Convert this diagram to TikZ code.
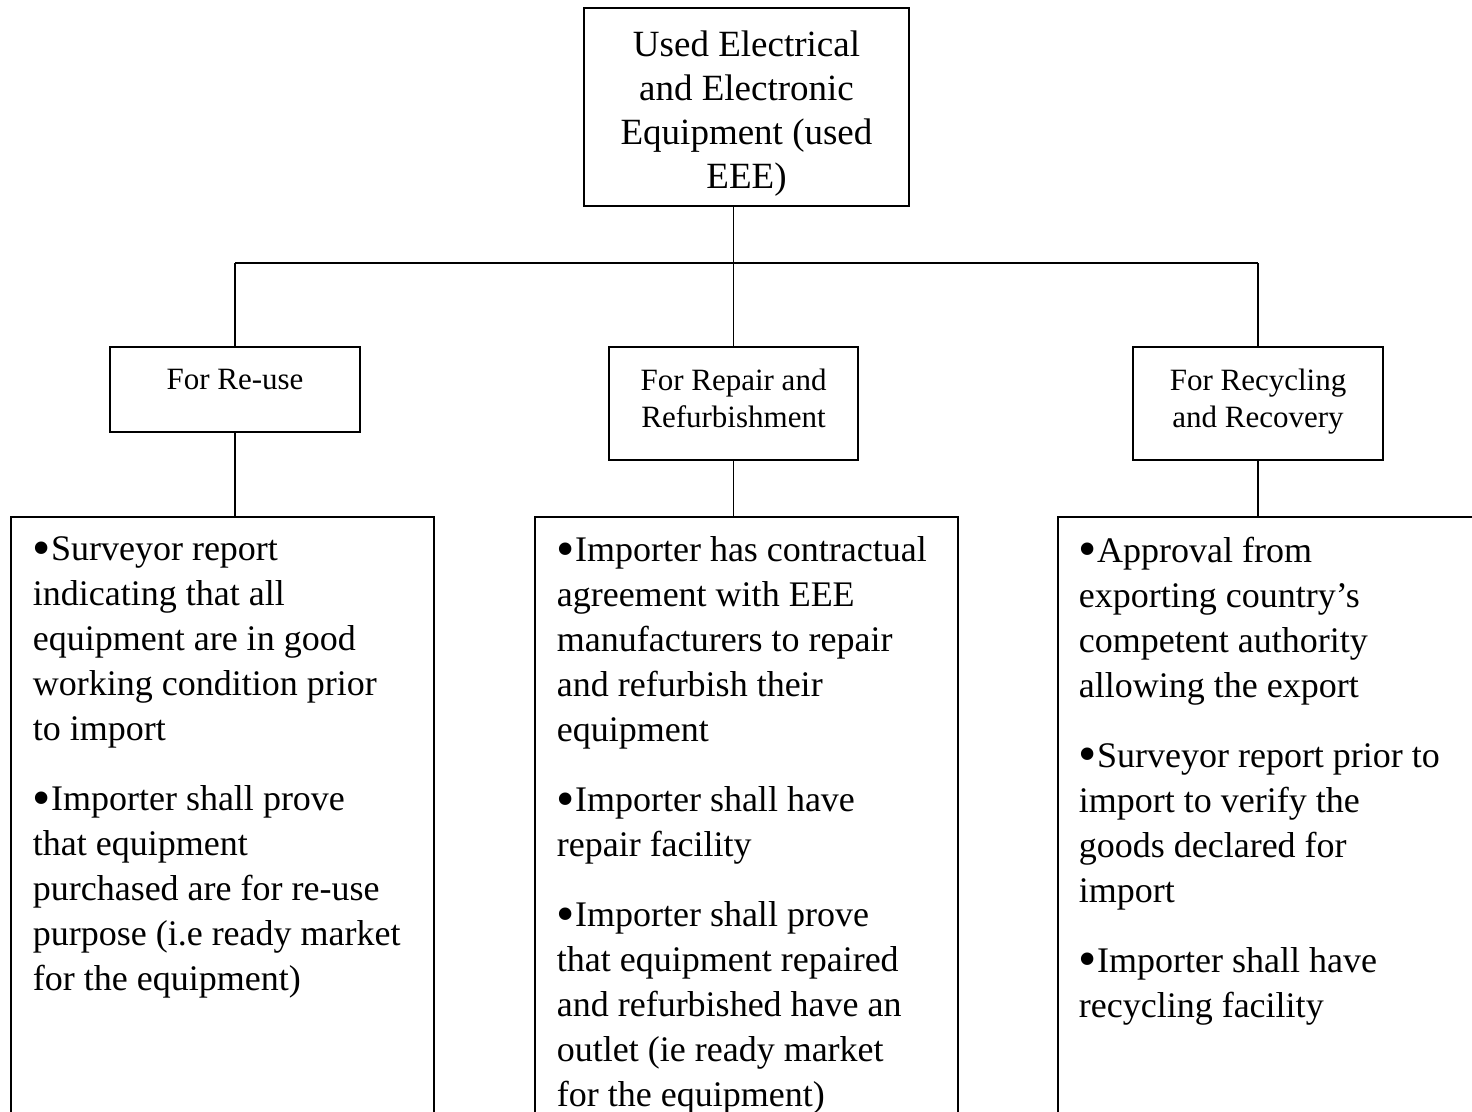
\documentclass[tikz,border=0pt]{standalone}
\usepackage{graphicx}
\usepackage{fontspec}
\setmainfont{Liberation Serif}
\newcommand\bul{\raisebox{-4.5pt}{\scalebox{1.45}{•}}}
\begin{document}
\begin{tikzpicture}[x=1pt,y=-1pt,line width=1.6pt,
  box/.style={draw,rectangle,inner sep=0pt},
  midtxt/.style={inner sep=0pt,align=center,font=\fontsize{31}{37}\selectfont},
  body/.style={inner sep=0pt,align=left,font=\fontsize{36}{45}\selectfont}]
\useasboundingbox (0,0) rectangle (1472,1111);
% top
\node[box,minimum width=325pt,minimum height=198pt] (top) at (746.5,107) {};
\node[inner sep=0pt,align=center,anchor=north,
  font=\fontsize{37}{44}\selectfont] (topT) at (746.5,30)
  {Used Electrical\\and Electronic\\Equipment (used\\EEE)};
% middle level
\node[box,minimum width=250pt,minimum height=85pt] (reuse) at (235,389.5) {};
\node[box,minimum width=249pt,minimum height=113pt] (repair) at (733.5,403.5) {};
\node[box,minimum width=250pt,minimum height=113pt] (recyc) at (1258,403.5) {};
\node[midtxt,anchor=north] (reuseT) at (235,368) {For Re-use};
\node[midtxt,anchor=north] (repairT) at (733.5,368) {For Repair and\\Refurbishment};
\node[midtxt,anchor=north] (recycT) at (1258,368) {For Recycling\\and Recovery};
% bottom level (cut off by the page edge)
\node[box,minimum width=423pt,minimum height=603pt] (left) at (222.5,818.5) {};
\node[box,minimum width=423pt,minimum height=603pt] (middle) at (746.5,818.5) {};
\node[box,minimum width=432pt,minimum height=603pt] (right) at (1274,818.5) {};
\node[body,anchor=north west] (leftT) at (32,536)
 {\bul Surveyor report\\indicating that all\\equipment are in good\\working condition prior\\to import\\[25pt]
  \bul Importer shall prove\\that equipment\\purchased are for re-use\\purpose (i.e ready market\\for the equipment)};
\node[body,anchor=north west] (middleT) at (556,536)
 {\bul Importer has contractual\\agreement with EEE\\manufacturers to repair\\and refurbish their\\equipment\\[25pt]
  \bul Importer shall have\\repair facility\\[25pt]
  \bul Importer shall prove\\that equipment repaired\\and refurbished have an\\outlet (ie ready market\\for the equipment)};
\node[body,anchor=north west] (rightT) at (1078,536)
 {\bul Approval from\\exporting country’s\\competent authority\\allowing the export\\[25pt]
  \bul Surveyor report prior to\\import to verify the\\goods declared for\\import\\[25pt]
  \bul Importer shall have\\recycling facility};
% connectors
\coordinate (j) at (734,263);
\draw (repair.north |- top.south) -- (repair.north);
\draw (reuse.north |- j) -- (recyc.north |- j);
\draw (reuse.north |- j) -- (reuse.north);
\draw (recyc.north |- j) -- (recyc.north);
\draw (reuse.south) -- (reuse.south |- left.north);
\draw (repair.south) -- (repair.south |- middle.north);
\draw (recyc.south) -- (recyc.south |- right.north);
\end{tikzpicture}
\end{document}
